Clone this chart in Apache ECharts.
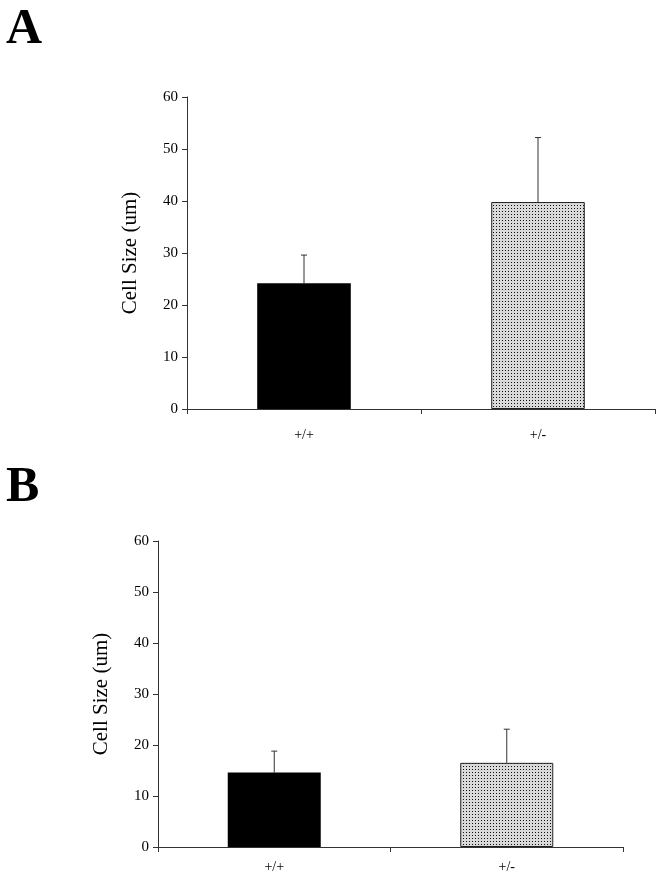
<!DOCTYPE html>
<html>
<head>
<meta charset="utf-8">
<script src="https://cdn.jsdelivr.net/npm/echarts@6/dist/echarts.min.js"></script>
<style>
  html, body { margin: 0; padding: 0; background: #fff; }
  #chart { width: 667px; height: 886px; }
</style>
</head>
<body>
<div id="chart"></div>
<script>
// data
const categories = ['+/+', '+/-'];
const meansA = [24.2, 39.8];
const errA = [5.4, 12.4];
const meansB = [14.6, 16.5];
const errB = [4.2, 6.6];
const yMin = 0, yMax = 60, yStep = 10;

// stippled fill for the +/- bar
const makeDots = () => {
  const c = document.createElement('canvas');
  c.width = 3; c.height = 3;
  const ctx = c.getContext('2d');
  ctx.fillStyle = '#d9d9d9';
  ctx.fillRect(0, 0, 3, 3);
  ctx.fillStyle = '#111';
  ctx.fillRect(1, 1, 1, 1);
  return c;
};
const dots = { image: makeDots(), repeat: 'repeat' };

const font = '"Liberation Serif", "DejaVu Serif", serif';
const axisColor = '#333';

const xAxisCfg = (gridIndex, margin) => ({
  type: 'category',
  gridIndex,
  data: categories,
  axisLine: { lineStyle: { color: axisColor, width: 1 } },
  axisTick: { show: true, length: 5, lineStyle: { color: axisColor } },
  axisLabel: { color: '#000', fontFamily: font, fontSize: 14, margin }
});

const yAxisCfg = (gridIndex) => ({
  type: 'value',
  gridIndex,
  min: yMin, max: yMax, interval: yStep,
  name: 'Cell Size (um)',
  nameLocation: 'middle',
  nameGap: 46,
  nameTextStyle: { color: '#000', fontFamily: font, fontSize: 21 },
  axisLine: { show: true, lineStyle: { color: axisColor, width: 1 } },
  axisTick: { show: true, length: 5, lineStyle: { color: axisColor } },
  axisLabel: { color: '#000', fontFamily: font, fontSize: 15, margin: 9 },
  splitLine: { show: false }
});

const barSeries = (idx, means) => ({
  type: 'bar',
  xAxisIndex: idx, yAxisIndex: idx,
  barWidth: '40%',
  data: means.map((v, i) => ({
    value: v,
    itemStyle: i === 0
      ? { color: '#000' }
      : { color: dots, borderColor: '#222', borderWidth: 1 }
  })),
  silent: true
});

const errSeries = (idx, means, errs) => ({
  type: 'custom',
  xAxisIndex: idx, yAxisIndex: idx,
  z: 1,
  data: means.map((v, i) => [i, v, errs[i]]),
  renderItem: (params, api) => {
    const base = api.coord([api.value(0), api.value(1)]);
    const top = api.coord([api.value(0), api.value(1) + api.value(2)]);
    const style = { stroke: '#333', lineWidth: 1 };
    return {
      type: 'group',
      children: [
        { type: 'line', shape: { x1: base[0], y1: base[1], x2: top[0], y2: top[1] }, style },
        { type: 'line', shape: { x1: top[0] - 3, y1: top[1], x2: top[0] + 3, y2: top[1] }, style }
      ]
    };
  }
});

const chart = echarts.init(document.getElementById('chart'));
chart.setOption({
  backgroundColor: '#fff',
  animation: false,
  graphic: [
    { type: 'text', left: 6, top: 5, style: { text: 'A', font: 'bold 50px ' + font, fill: '#000' } },
    { type: 'text', left: 6, top: 463, style: { text: 'B', font: 'bold 50px ' + font, fill: '#000' } }
  ],
  grid: [
    { left: 187, top: 97, width: 468, height: 312 },
    { left: 158, top: 541, width: 465, height: 306 }
  ],
  xAxis: [xAxisCfg(0, 19), xAxisCfg(1, 13)],
  yAxis: [yAxisCfg(0), yAxisCfg(1)],
  series: [
    barSeries(0, meansA),
    errSeries(0, meansA, errA),
    barSeries(1, meansB),
    errSeries(1, meansB, errB)
  ]
});
</script>
</body>
</html>
